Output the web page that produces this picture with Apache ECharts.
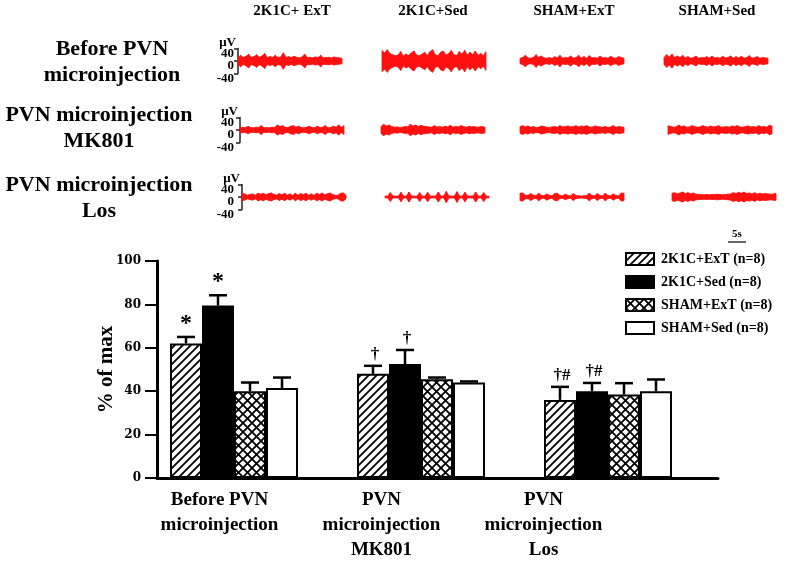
<!DOCTYPE html>
<html><head><meta charset="utf-8">
<script src="https://cdn.jsdelivr.net/npm/echarts@6/dist/echarts.min.js"></script>
<style>html,body{margin:0;padding:0;background:#fff}#c{width:787px;height:565px}</style>
</head><body><div id="c"></div>
<script>
// ---------------- data ----------------
const groupNames = ['2K1C+ExT (n=8)', '2K1C+Sed (n=8)', 'SHAM+ExT (n=8)', 'SHAM+Sed (n=8)'];
const conditions = ['Before PVN\nmicroinjection', 'PVN\nmicroinjection\nMK801', 'PVN\nmicroinjection\nLos'];
const ext2k = [62, 48, 36];
const ext2kErr = [3, 3.7, 6];
const sed2k = [79.5, 52.5, 40];
const sed2kErr = [4.7, 6.5, 3.8];
const extSham = [40, 45.5, 38.5];
const extShamErr = [4, 0.8, 5.2];
const sedSham = [41.5, 44, 40];
const sedShamErr = [4.8, 0.5, 5.4];
const marks2kExt = ['*', '\u2020', '\u2020#'];
const marks2kSed = ['*', '\u2020', '\u2020#'];
const yTicks = [0, 20, 40, 60, 80, 100];
const yName = '% of max';

const traceColumns = ['2K1C+ ExT', '2K1C+Sed', 'SHAM+ExT', 'SHAM+Sed'];
const traceRows = ['Before PVN\nmicroinjection', 'PVN microinjection\nMK801', 'PVN microinjection\nLos'];
const traceTicks = [-40, 0, 40];   // μV
const traceUnit = 'μV';
const timeScale = '5s';
// envelope amplitudes (μV) read along each recording
const r1c1 = [12,18,11,15,22,12,14,20,12,16,24,11,14,12,18,11,13,26,12,14,11,15,12,10,13,22,11,12,10,13,11,18,10,11,12,10,13,11,10,9];
const r1c2 = [34,26,36,24,20,17,19,30,16,22,18,26,32,19,17,22,28,18,30,36,20,17,28,32,19,24,34,20,18,30,22,34,19,28,20,32,18,24,17,30];
const r1c3 = [9,11,18,10,9,11,20,12,16,10,9,11,8,14,10,18,9,11,10,16,9,11,18,10,14,9,17,10,11,9,16,10,11,9,15,10,9,14,11,9];
const r1c4 = [11,20,13,22,11,16,11,18,10,14,9,11,16,9,11,10,14,9,16,10,11,9,15,10,11,16,9,14,10,15,9,11,17,9,11,14,9,11,10,9];
const r2c1 = [8,9,7,12,8,7,9,8,14,7,8,7,9,8,16,11,14,9,8,12,14,9,12,8,7,9,12,8,7,12,8,9,14,7,8,12,9,16,8,14];
const r2c2 = [11,18,13,16,11,9,10,8,9,11,10,18,13,16,11,15,12,11,10,9,14,10,11,9,12,10,15,9,11,10,14,11,9,12,10,11,9,10,11,9];
const r2c3 = [11,14,10,13,9,11,8,9,13,11,9,8,10,11,9,14,10,11,13,10,11,14,10,13,11,14,10,9,13,11,10,9,11,8,10,14,9,11,10,9];
const r2c4 = [14,11,9,10,16,11,13,9,10,14,11,9,10,14,11,9,13,10,11,14,9,10,11,9,13,11,14,10,9,11,13,10,11,9,14,10,11,9,15,13];
const r3c1 = [12,10,6,8,10,6,12,9,12,7,11,13,8,6,11,7,12,6,10,5,12,6,11,8,12,6,10,6,12,8,13,7,10,13,8,5,6,12,13,6];
const r3c2 = [3,3,14,3,3,3,15,3,3,16,3,3,3,14,3,3,15,3,3,3,16,3,3,18,3,3,3,17,3,3,15,3,3,3,16,3,3,14,3,3];
const r3c3 = [12,13,6,5,11,6,4,12,5,4,10,6,4,11,12,5,4,9,5,4,11,5,4,3,4,5,12,5,4,11,5,4,12,5,4,10,5,4,13,12];
const r3c4 = [12,14,10,13,16,11,14,10,13,9,8,8,7,8,7,8,8,9,8,7,8,9,10,14,11,15,12,16,11,13,10,14,9,12,10,11,10,9,10,11];

// ---------------- layout / style ----------------
const traces = [[r1c1, r1c2, r1c3, r1c4], [r2c1, r2c2, r2c3, r2c4], [r3c1, r3c2, r3c3, r3c4]];
const traceLeft = [[238, 382, 520, 664], [240, 381, 520, 668], [242, 385, 520, 672]];
const traceMid = [61, 130, 197];
const traceW = 104, traceH = 25;
const SERIF = '"Liberation Serif", "Times New Roman", serif';
const BAR_W = 32;
const bold = (size, family) => ({ fontWeight: 'bold', fontSize: size, fontFamily: family || SERIF, color: '#000' });

function makePattern(kind) {
  const s = kind === 'hatch' ? 8 : 9;
  const cv = document.createElement('canvas'); cv.width = s; cv.height = s;
  const g = cv.getContext('2d');
  g.fillStyle = '#fff'; g.fillRect(0, 0, s, s);
  g.strokeStyle = '#000'; g.lineWidth = 1.8; g.beginPath();
  if (kind === 'hatch') {
    g.moveTo(-1, s + 1); g.lineTo(s + 1, -1);
    g.moveTo(-1, 1); g.lineTo(1, -1);
    g.moveTo(s - 1, s + 1); g.lineTo(s + 1, s - 1);
  } else {
    g.moveTo(-1, -1); g.lineTo(s + 1, s + 1);
    g.moveTo(-1, s + 1); g.lineTo(s + 1, -1);
  }
  g.stroke();
  return { image: cv, repeat: 'repeat' };
}
const fills = [makePattern('hatch'), '#000', makePattern('cross'), '#fff'];

const grids = [], xAxes = [], yAxes = [], series = [], extraY = [];
const traceLabel = { margin: 4, verticalAlign: 'top', hideOverlap: false,
  rich: { v: Object.assign(bold(13), { height: 8, lineHeight: 8, padding: [2, 0, 0, 0] }) } };
traces.forEach((row, r) => row.forEach((vals, c) => {
  const idx = grids.length;
  grids.push({ left: traceLeft[r][c], top: traceMid[r] - traceH / 2, width: traceW, height: traceH });
  xAxes.push({ gridIndex: idx, type: 'value', min: 0, max: vals.length - 1, show: false });
  const bracket = c === 0;
  const off = traceLeft[r][0] - 238;
  yAxes.push({
    gridIndex: idx, type: 'value', position: 'left', min: traceTicks[0], max: traceTicks[2], interval: traceTicks[2],
    show: bracket, offset: off,
    name: bracket ? traceUnit : '', nameLocation: 'end', nameGap: 1, nameMoveOverlap: false,
    nameTextStyle: Object.assign(bold(13), { align: 'right', padding: [0, 2, -2, 0] }),
    axisLine: { show: true, lineStyle: { color: '#222', width: 1.5 } },
    axisTick: { show: true, length: 4, lineStyle: { color: '#222', width: 1.5 } },
    axisLabel: Object.assign({ show: true, showMinLabel: true, showMaxLabel: true,
      formatter: v => v === 0 ? '' : '{v|' + v + '}' }, traceLabel),
    splitLine: { show: false }
  });
  if (bracket) {
    // second axis on the same bracket carrying only the centre (0 μV) label
    extraY.push({
      gridIndex: idx, type: 'value', position: 'left', min: traceTicks[0], max: traceTicks[2], interval: traceTicks[2],
      offset: off, axisLine: { show: false }, axisTick: { show: false }, splitLine: { show: false },
      axisLabel: Object.assign({ show: true, showMinLabel: false, showMaxLabel: false,
        formatter: v => v === 0 ? '{v|0}' : '' }, traceLabel)
    });
  }
  series.push({
    type: 'custom', xAxisIndex: idx, yAxisIndex: idx, silent: true,
    data: vals.map((a, k) => [k, a]),
    renderItem: (params, api) => {
      const k = params.dataIndex;
      if (k >= vals.length - 1) return null;
      const a = vals[k], b = vals[k + 1];
      const pts = [api.coord([k, a]), api.coord([k + 1, b]), api.coord([k + 1, -b]), api.coord([k, -a])];
      return { type: 'polygon', shape: { points: pts },
               style: { fill: '#ff1010', stroke: '#ff1010', lineWidth: 0.8 } };
    }
  });
}));

// bar chart: frame grid (axes), bar grid, label grid
const G_FRAME = grids.length;
grids.push({ left: 157, top: 261, width: 561, height: 217 });
xAxes.push({ gridIndex: G_FRAME, type: 'value', min: 0, max: 1,
  axisLine: { show: true, onZero: false, lineStyle: { color: '#000', width: 3 } },
  axisTick: { show: false }, axisLabel: { show: false }, splitLine: { show: false } });
yAxes.push({ gridIndex: G_FRAME, type: 'value', min: yTicks[0], max: yTicks[yTicks.length - 1],
  interval: yTicks[1] - yTicks[0],
  name: yName, nameLocation: 'middle', nameGap: 40, nameMoveOverlap: false,
  nameTextStyle: bold(21),
  axisLine: { show: true, onZero: false, lineStyle: { color: '#000', width: 3 } },
  axisTick: { show: true, length: 12, lineStyle: { color: '#000', width: 2 } },
  axisLabel: Object.assign(bold(12, '"DejaVu Serif", serif'), { margin: 16 }),
  splitLine: { show: false } });

const G_BAR = grids.length;
grids.push({ left: 140.5, top: 261, width: 561, height: 217 });
xAxes.push({ gridIndex: G_BAR, type: 'category', data: conditions, show: false });
yAxes.push({ gridIndex: G_BAR, type: 'value', min: yTicks[0], max: yTicks[yTicks.length - 1], show: false });

const G_LAB = grids.length;
grids.push({ left: 138.5, top: 261, width: 486, height: 217 });
xAxes.push({ gridIndex: G_LAB, type: 'category', data: conditions,
  axisLine: { show: false }, axisTick: { show: false },
  axisLabel: Object.assign(bold(19), { interval: 0, margin: 10, lineHeight: 25 }) });
yAxes.push({ gridIndex: G_LAB, type: 'value', min: 0, max: 100, show: false });
extraY.forEach(a => yAxes.push(a));

const values = [ext2k, sed2k, extSham, sedSham];
const errs = [ext2kErr, sed2kErr, extShamErr, sedShamErr];
const marks = [marks2kExt, marks2kSed, [], []];
values.forEach((v, s) => series.push({
  type: 'bar', name: groupNames[s], xAxisIndex: G_BAR, yAxisIndex: G_BAR,
  data: v, barWidth: BAR_W, barGap: '0%', z: 2,
  itemStyle: { color: fills[s], borderColor: '#000', borderWidth: 2 }
}));
const errData = [];
values.forEach((v, s) => v.forEach((val, c) => errData.push([c, s, val, errs[s][c]])));
series.push({
  type: 'custom', xAxisIndex: G_BAR, yAxisIndex: G_BAR, z: 4, silent: true,
  encode: { x: 0, y: 2 }, data: errData,
  renderItem: (params, api) => {
    const c = api.value(0), s = api.value(1), v = api.value(2), e = api.value(3);
    const base = api.coord([c, v]), top = api.coord([c, v + e]);
    const x = base[0] + (s - 1.5) * BAR_W;
    const children = [
      { type: 'line', shape: { x1: x, y1: base[1], x2: x, y2: top[1] }, style: { stroke: '#000', lineWidth: 2.5 } },
      { type: 'line', shape: { x1: x - 9, y1: top[1], x2: x + 9, y2: top[1] }, style: { stroke: '#000', lineWidth: 2.5 } }
    ];
    const m = marks[s][c];
    if (m) {
      const star = m === '*';
      children.push({ type: 'text', x: x + (star ? 0 : 2), y: top[1] - (star ? 1 : 3),
        style: { text: m, font: 'bold ' + (star ? 24 : 17) + 'px ' + SERIF, fill: '#000',
                 align: 'center', verticalAlign: 'bottom' } });
    }
    return { type: 'group', children };
  }
});

const graphic = [];
const colX = [292, 433, 574, 717];
traceColumns.forEach((t, i) => graphic.push({ type: 'text', x: colX[i], y: 11,
  style: { text: t, font: 'bold 15px ' + SERIF, fill: '#000', align: 'center', verticalAlign: 'middle' } }));
const rowX = [112, 99, 99], rowY = [62, 128.5, 198.5];
traceRows.forEach((t, i) => graphic.push({ type: 'text', x: rowX[i], y: rowY[i],
  style: { text: t, font: 'bold 22px ' + SERIF, fill: '#000', align: 'center', verticalAlign: 'middle', lineHeight: 26 } }));
graphic.push({ type: 'text', x: 737, y: 234,
  style: { text: timeScale, font: 'bold 11px ' + SERIF, fill: '#000', align: 'center', verticalAlign: 'middle' } });
graphic.push({ type: 'line', shape: { x1: 728, y1: 242, x2: 746, y2: 242 }, style: { stroke: '#000', lineWidth: 1.2 } });

const chart = echarts.init(document.getElementById('c'), null, { renderer: 'canvas' });
chart.setOption({
  animation: false,
  backgroundColor: '#fff',
  grid: grids, xAxis: xAxes, yAxis: yAxes, series,
  legend: {
    data: groupNames, orient: 'vertical', left: 620, top: 247,
    itemWidth: 28, itemHeight: 12, itemGap: 9, icon: 'rect',
    textStyle: Object.assign(bold(14), { lineHeight: 14, padding: [0, 0, 0, 2] })
  },
  graphic
});
</script></body></html>
